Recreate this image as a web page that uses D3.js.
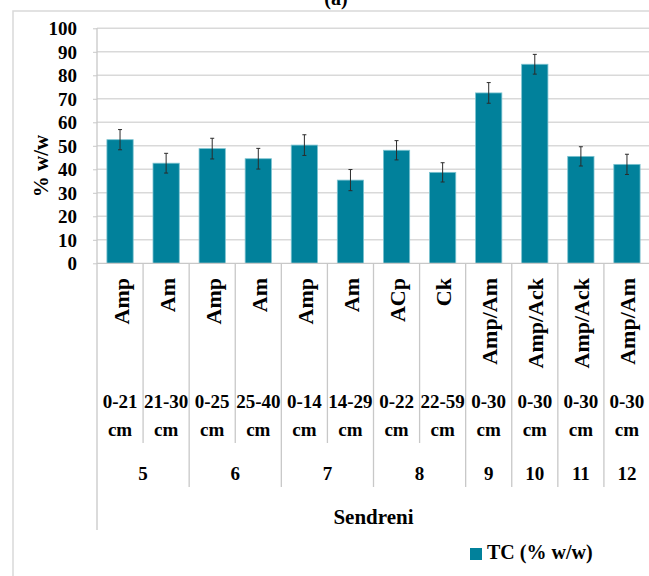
<!DOCTYPE html>
<html>
<head>
<meta charset="utf-8">
<script src="https://cdn.jsdelivr.net/npm/d3@7"></script>
<style>
  html, body { margin: 0; padding: 0; background: #fff; }
  svg { display: block; }
  text { font-family: "Liberation Serif", "Times New Roman", serif; fill: #000; }
</style>
</head>
<body>
<svg id="chart" width="649" height="576"></svg>
<script>
// data
const horizons = ["Amp", "Am", "Amp", "Am", "Amp", "Am", "ACp", "Ck", "Amp/Am", "Amp/Ack", "Amp/Ack", "Amp/Am"];
const depths = ["0-21", "21-30", "0-25", "25-40", "0-14", "14-29", "0-22", "22-59", "0-30", "0-30", "0-30", "0-30"];
const profiles = ["5", "5", "6", "6", "7", "7", "8", "8", "9", "10", "11", "12"];
const tc = [52.6, 42.6, 48.8, 44.5, 50.3, 35.4, 48.1, 38.7, 72.5, 84.7, 45.5, 42.1];
const tcErr = [4.3, 4.2, 4.4, 4.4, 4.4, 4.5, 4.1, 4.1, 4.4, 4.2, 4.1, 4.3];
const yTicks = [0, 10, 20, 30, 40, 50, 60, 70, 80, 90, 100];
const siteName = "Sendreni";
const seriesName = "TC (% w/w)";

let svg = d3.select("#chart");

const plotLeft = 97, plotRight = 650, plotTop = 28.3, zeroY = 263.3;
const barColor = "#01819b";
const lineColor = "#c8c8c8";

let x = d3.scaleBand()
    .domain(d3.range(tc.length))
    .range([plotLeft, plotRight])
    .paddingInner(0.43)
    .paddingOuter(0.215);
let y = d3.scaleLinear().domain([0, 100]).range([zeroY, plotTop]);
const step = x.step();

// outer chart border
svg.append("rect")
    .attr("x", 13).attr("y", 11)
    .attr("width", 700).attr("height", 700)
    .attr("fill", "none").attr("stroke", "#d9d9d9").attr("stroke-width", 1.5);

// title, cut at the top edge as in the figure
svg.append("text")
    .attr("x", 336).attr("y", 5)
    .attr("text-anchor", "middle")
    .attr("font-size", 20).attr("font-weight", "bold")
    .text("(a)");

// gridlines
svg.append("g").selectAll("line")
    .data(yTicks.filter(d => d > 0))
    .join("line")
    .attr("x1", plotLeft).attr("x2", plotRight)
    .attr("y1", d => y(d)).attr("y2", d => y(d))
    .attr("stroke", "#d9d9d9").attr("stroke-width", 1.5);

// y axis
let yAxis = svg.append("g")
    .attr("transform", `translate(${plotLeft},0)`)
    .call(d3.axisLeft(y).tickValues(yTicks).tickSize(4).tickPadding(16));
yAxis.select(".domain").remove();
yAxis.selectAll(".tick line").attr("stroke", lineColor);
yAxis.selectAll(".tick text")
    .attr("font-family", "Liberation Serif")
    .attr("font-size", 19).attr("font-weight", "bold").attr("fill", "#000")
    .attr("dy", "0.33em");

// left axis line runs down through the label table
svg.append("line")
    .attr("x1", plotLeft).attr("x2", plotLeft).attr("y1", plotTop).attr("y2", 530)
    .attr("stroke", lineColor).attr("stroke-width", 1.3);

// y axis title
svg.append("text")
    .attr("transform", "translate(48,166) rotate(-90)")
    .attr("text-anchor", "middle")
    .attr("font-size", 21).attr("font-weight", "bold")
    .text("% w/w");

// bars
svg.append("g").selectAll("rect")
    .data(tc)
    .join("rect")
    .attr("x", (d, i) => x(i))
    .attr("y", d => y(d))
    .attr("width", x.bandwidth())
    .attr("height", d => zeroY - y(d))
    .attr("fill", barColor)
    .attr("stroke", "#7cc3d0").attr("stroke-width", 0.8);

// error bars
let errG = svg.append("g").attr("stroke", "#2b2b2b").attr("stroke-width", 1);
tc.forEach((v, i) => {
    const cx = x(i) + x.bandwidth() / 2;
    errG.append("line").attr("x1", cx).attr("x2", cx)
        .attr("y1", y(v + tcErr[i])).attr("y2", y(v - tcErr[i]));
    [v + tcErr[i], v - tcErr[i]].forEach(e => {
        errG.append("line").attr("x1", cx - 2).attr("x2", cx + 2)
            .attr("y1", y(e)).attr("y2", y(e));
    });
});

// x axis line
svg.append("line")
    .attr("x1", plotLeft).attr("x2", plotRight).attr("y1", zeroY).attr("y2", zeroY)
    .attr("stroke", lineColor).attr("stroke-width", 1.3);

// category separators: short inside a profile, longer between profiles
let sepG = svg.append("g").attr("stroke", lineColor).attr("stroke-width", 1.3);
for (let i = 1; i <= tc.length; i++) {
    const sx = plotLeft + i * step;
    const between = i === tc.length || profiles[i] !== profiles[i - 1];
    sepG.append("line")
        .attr("x1", sx).attr("x2", sx)
        .attr("y1", zeroY).attr("y2", between ? 487 : 443);
}

// horizon labels (rotated)
svg.append("g").selectAll("text")
    .data(horizons)
    .join("text")
    .attr("transform", (d, i) => `translate(${x(i) + x.bandwidth() / 2 + 8.5},278) rotate(-90)`)
    .attr("text-anchor", "end")
    .attr("font-size", 22).attr("font-weight", "bold")
    .text(d => d);

// depth labels, two lines
let depthG = svg.append("g").attr("text-anchor", "middle")
    .attr("font-size", 19).attr("font-weight", "bold");
depths.forEach((d, i) => {
    const cx = x(i) + x.bandwidth() / 2;
    depthG.append("text").attr("x", cx).attr("y", 408).text(d);
    depthG.append("text").attr("x", cx).attr("y", 436).text("cm");
});

// profile labels, centred on their group
const groups = Array.from(d3.group(d3.range(tc.length), i => profiles[i]));
svg.append("g").selectAll("text")
    .data(groups)
    .join("text")
    .attr("x", ([, idx]) => plotLeft + (d3.min(idx) + d3.max(idx) + 1) / 2 * step)
    .attr("y", 480)
    .attr("text-anchor", "middle")
    .attr("font-size", 19).attr("font-weight", "bold")
    .text(([k]) => k);

// site label
svg.append("text")
    .attr("x", (plotLeft + plotRight) / 2).attr("y", 524)
    .attr("text-anchor", "middle")
    .attr("font-size", 21).attr("font-weight", "bold")
    .text(siteName);

// legend
svg.append("rect")
    .attr("x", 470).attr("y", 548).attr("width", 12).attr("height", 12)
    .attr("fill", barColor);
svg.append("text")
    .attr("x", 487).attr("y", 559)
    .attr("font-size", 20).attr("font-weight", "bold")
    .text(seriesName);
</script>
</body>
</html>
